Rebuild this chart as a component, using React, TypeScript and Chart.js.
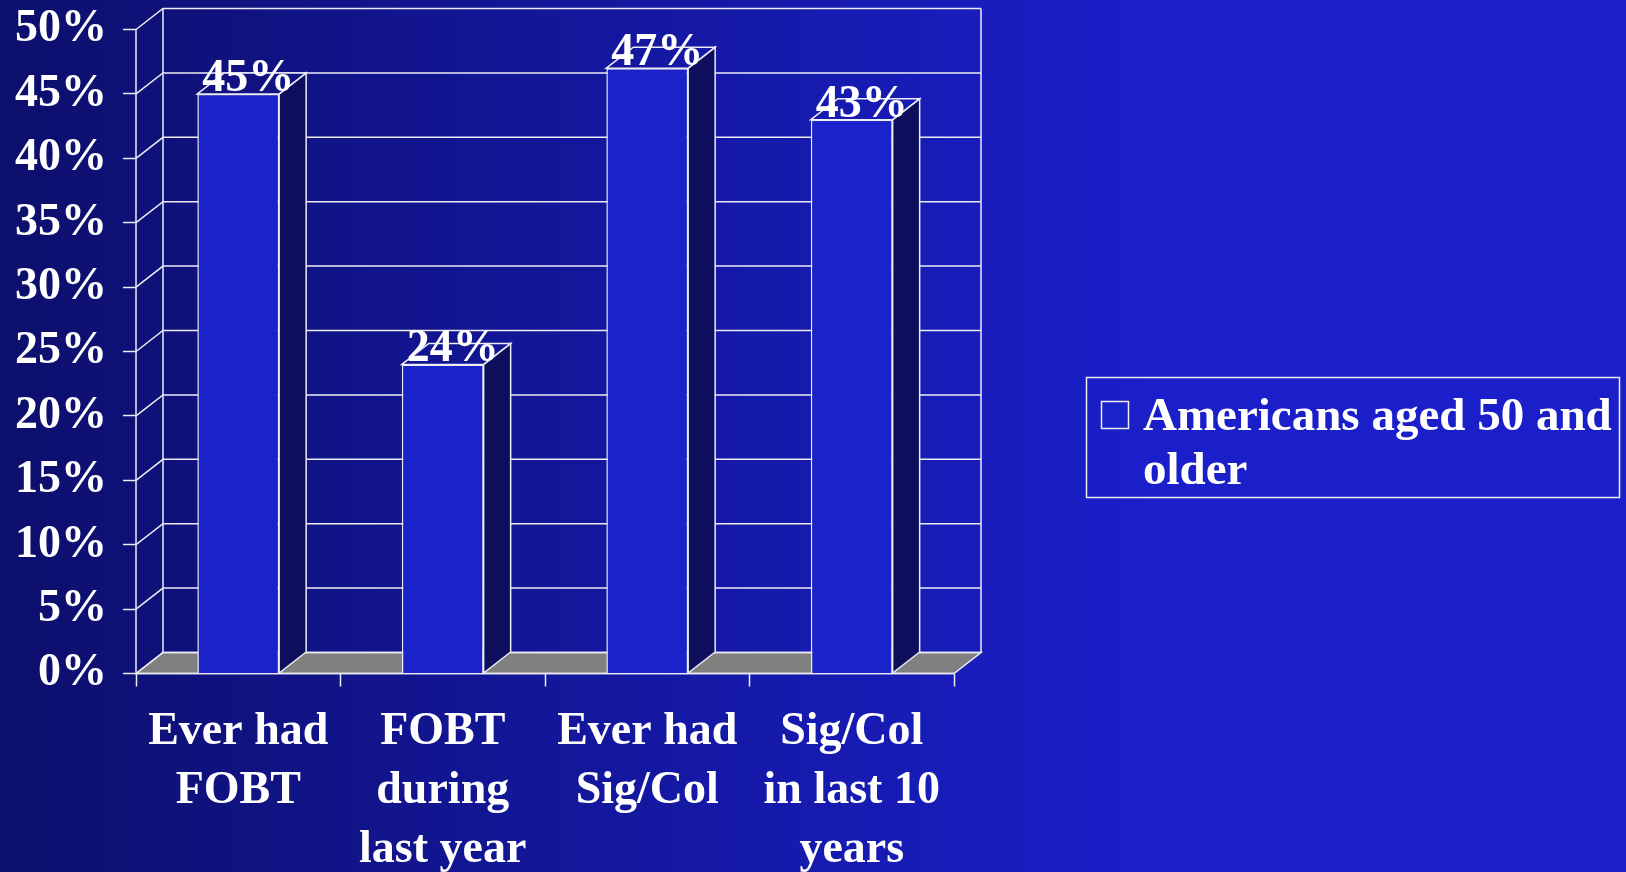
import React, { useEffect, useRef } from "react";
import { Chart, registerables } from "chart.js";

Chart.register(...registerables);

// Screening categories (multi-line axis labels)
const categories: string[][] = [
  ["Ever had", "FOBT"],
  ["FOBT", "during", "last year"],
  ["Ever had", "Sig/Col"],
  ["Sig/Col", "in last 10", "years"],
];

// Share of respondents, percent
const values: number[] = [45, 24, 47, 43];

const seriesName = "Americans aged 50 and older";

// Value axis range and step (percent)
const yMin = 0;
const yMax = 50;
const yStep = 5;

const W = 1626;
const H = 872;
const FONT = '"Liberation Serif", "Times New Roman", serif';
const LINE = "#ECECF4";
const BAR_FRONT = "#1A22C9";
const BAR_SIDE = "#0E0F5C";
const FLOOR = "#808080";
const DEPTH_X = 27;
const DEPTH_Y = -21;

function backgroundGradient(ctx: CanvasRenderingContext2D) {
  const g = ctx.createLinearGradient(0, 0, 1150, 0);
  g.addColorStop(0, "#0D0F6C");
  g.addColorStop(1, "#1A1FC9");
  return g;
}

const box3d = {
  id: "box3d",
  beforeDraw(chart: any) {
    const ctx: CanvasRenderingContext2D = chart.ctx;
    ctx.save();
    ctx.fillStyle = backgroundGradient(ctx);
    ctx.fillRect(0, 0, chart.width, chart.height);
    ctx.restore();
  },
  beforeDatasetsDraw(chart: any) {
    const ctx: CanvasRenderingContext2D = chart.ctx;
    const { left, right, top, bottom } = chart.chartArea;
    const yScale = chart.scales.y;
    ctx.save();
    ctx.strokeStyle = LINE;
    ctx.lineWidth = 1.5;
    ctx.lineJoin = "miter";

    // floor
    ctx.beginPath();
    ctx.moveTo(left, bottom);
    ctx.lineTo(left + DEPTH_X, bottom + DEPTH_Y);
    ctx.lineTo(right + DEPTH_X, bottom + DEPTH_Y);
    ctx.lineTo(right, bottom);
    ctx.closePath();
    ctx.fillStyle = FLOOR;
    ctx.fill();
    ctx.stroke();

    // side wall + back wall gridlines
    yScale.ticks.forEach((t: any) => {
      const py = yScale.getPixelForValue(t.value);
      ctx.beginPath();
      ctx.moveTo(left, py);
      ctx.lineTo(left + DEPTH_X, py + DEPTH_Y);
      ctx.lineTo(right + DEPTH_X, py + DEPTH_Y);
      ctx.stroke();
    });

    // wall edges
    ctx.beginPath();
    ctx.moveTo(left, top);
    ctx.lineTo(left, bottom);
    ctx.moveTo(left + DEPTH_X, top + DEPTH_Y);
    ctx.lineTo(left + DEPTH_X, bottom + DEPTH_Y);
    ctx.moveTo(right + DEPTH_X, top + DEPTH_Y);
    ctx.lineTo(right + DEPTH_X, bottom + DEPTH_Y);
    ctx.stroke();

    // bar side and top faces
    const meta = chart.getDatasetMeta(0);
    meta.data.forEach((bar: any) => {
      const { x, y, base, width } = bar.getProps(["x", "y", "base", "width"], true);
      const L = x - width / 2;
      const R = x + width / 2;
      ctx.beginPath();
      ctx.moveTo(R, y);
      ctx.lineTo(R + DEPTH_X, y + DEPTH_Y);
      ctx.lineTo(R + DEPTH_X, base + DEPTH_Y);
      ctx.lineTo(R, base);
      ctx.closePath();
      ctx.fillStyle = BAR_SIDE;
      ctx.fill();
      ctx.stroke();

      ctx.beginPath();
      ctx.moveTo(L, y);
      ctx.lineTo(L + DEPTH_X, y + DEPTH_Y);
      ctx.lineTo(R + DEPTH_X, y + DEPTH_Y);
      ctx.lineTo(R, y);
      ctx.closePath();
      ctx.fillStyle = backgroundGradient(ctx);
      ctx.fill();
      ctx.stroke();
    });

    // front edge of floor
    ctx.beginPath();
    ctx.moveTo(left, bottom);
    ctx.lineTo(right, bottom);
    ctx.stroke();
    ctx.restore();
  },
  afterDatasetsDraw(chart: any) {
    const ctx: CanvasRenderingContext2D = chart.ctx;
    const meta = chart.getDatasetMeta(0);
    const data = chart.data.datasets[0].data as number[];
    ctx.save();
    ctx.fillStyle = "#FFFFFF";
    ctx.font = `bold 46px ${FONT}`;
    ctx.textAlign = "center";
    ctx.textBaseline = "alphabetic";
    meta.data.forEach((bar: any, i: number) => {
      const { x, y } = bar.getProps(["x", "y"], true);
      ctx.fillText(`${data[i]}%`, x + 10, y - 3);
    });
    ctx.restore();
  },
  afterDraw(chart: any) {
    // legend box
    const ctx: CanvasRenderingContext2D = chart.ctx;
    const ds = chart.data.datasets[0];
    const bx = 1086.5;
    const by = 377.5;
    const bw = 533;
    const bh = 120;
    ctx.save();
    ctx.strokeStyle = LINE;
    ctx.lineWidth = 1.5;
    ctx.strokeRect(bx, by, bw, bh);

    ctx.fillStyle = BAR_FRONT;
    ctx.fillRect(1101.5, 401.5, 27, 27);
    ctx.strokeRect(1101.5, 401.5, 27, 27);

    ctx.font = `bold 47px ${FONT}`;
    ctx.fillStyle = "#FFFFFF";
    ctx.textAlign = "left";
    ctx.textBaseline = "middle";
    const words = String(ds.label).split(" ");
    const lines: string[] = [];
    let cur = "";
    const maxW = 475;
    words.forEach((w) => {
      const test = cur ? `${cur} ${w}` : w;
      if (ctx.measureText(test).width > maxW && cur) {
        lines.push(cur);
        cur = w;
      } else {
        cur = test;
      }
    });
    if (cur) lines.push(cur);
    lines.forEach((ln, i) => ctx.fillText(ln, 1143, 418 + i * 54));
    ctx.restore();
  },
};

export default function App() {
  const ref = useRef<HTMLCanvasElement | null>(null);

  useEffect(() => {
    document.body.style.margin = "0";
    document.body.style.overflow = "hidden";
    const canvas = ref.current;
    if (!canvas) return;
    const chart = new Chart(canvas, {
      type: "bar",
      data: {
        labels: categories,
        datasets: [
          {
            label: seriesName,
            data: values,
            backgroundColor: BAR_FRONT,
            borderColor: LINE,
            borderWidth: 1.5,
            barPercentage: 0.4,
            categoryPercentage: 1,
          },
        ],
      },
      options: {
        responsive: false,
        animation: false,
        devicePixelRatio: 1,
        layout: { padding: { top: 29.5, right: W - 954, left: 0, bottom: 0 } },
        plugins: {
          legend: { display: false },
          tooltip: { enabled: false },
        },
        scales: {
          x: {
            offset: true,
            border: { display: false },
            grid: {
              display: true,
              offset: true,
              drawOnChartArea: false,
              drawTicks: true,
              tickLength: 13,
              tickColor: LINE,
              tickWidth: 1.5,
              color: LINE,
            },
            ticks: {
              color: "#FFFFFF",
              padding: 16,
              maxRotation: 0,
              autoSkip: false,
              font: { family: FONT, size: 46, weight: "bold", lineHeight: 1.28 },
            },
            afterFit: (s: any) => {
              s.height = H - 673.5;
              s.paddingLeft = 0;
              s.paddingRight = 0;
            },
          },
          y: {
            min: yMin,
            max: yMax,
            border: { display: false },
            grid: {
              display: true,
              drawOnChartArea: false,
              drawTicks: true,
              tickLength: 13,
              tickColor: LINE,
              tickWidth: 1.5,
              color: LINE,
            },
            ticks: {
              stepSize: yStep,
              color: "#FFFFFF",
              padding: 16,
              font: { family: FONT, size: 46, weight: "bold" },
              callback: (v: any) => `${v}%`,
            },
            afterFit: (s: any) => {
              s.width = 136;
              s.paddingTop = 0;
              s.paddingBottom = 0;
            },
          },
        },
      },
      plugins: [box3d],
    });
    return () => chart.destroy();
  }, []);

  return (
    <canvas ref={ref} width={W} height={H} style={{ display: "block", width: W, height: H }} />
  );
}
